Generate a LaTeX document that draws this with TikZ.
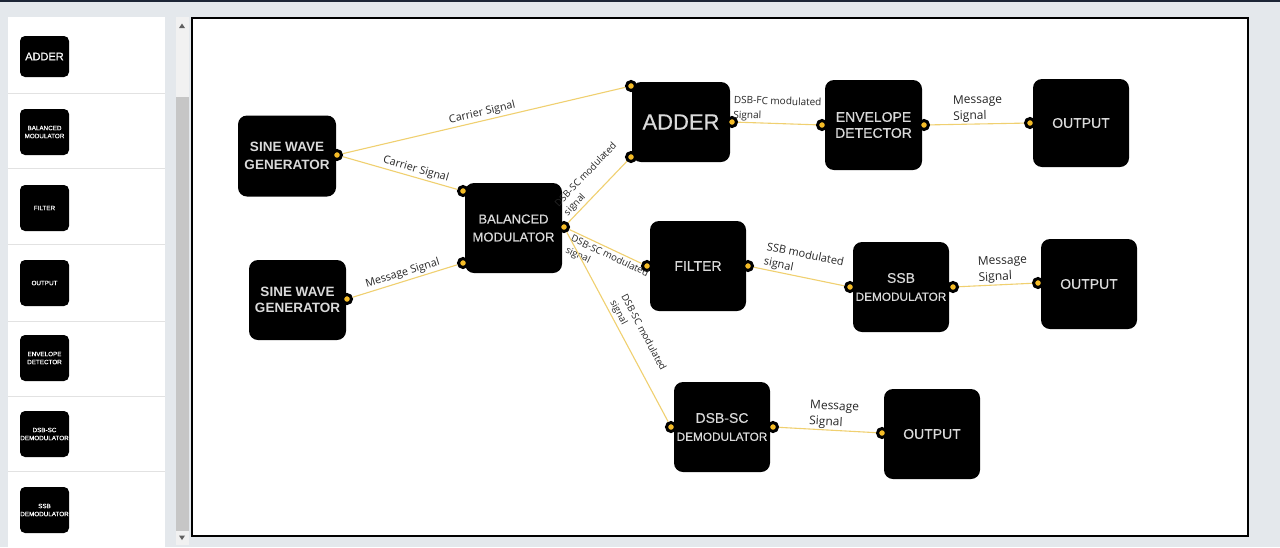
\documentclass[tikz,border=0pt]{standalone}
\usepackage{fontspec}
\setmainfont{Liberation Sans}
\newfontfamily\lblfont{Open Sans}
\newfontfamily\blkfont[FakeBold=0.4]{Liberation Sans}
\definecolor{bgc}{HTML}{E4E8EC}
\definecolor{topc}{HTML}{1C2536}
\definecolor{sepc}{HTML}{E2E2E2}
\definecolor{trackc}{HTML}{F1F1F1}
\definecolor{thumbc}{HTML}{C6C6C6}
\definecolor{arrc}{HTML}{606060}
\definecolor{blkfg}{HTML}{DADADA}
\definecolor{portc}{HTML}{F5BC27}
\definecolor{connc}{HTML}{F0D070}
\definecolor{lblc}{HTML}{262626}
\begin{document}
\begin{tikzpicture}[x=1pt,y=-1pt,
  blk/.style={fill=black, rounded corners=9pt, text=blkfg, align=center, inner sep=0pt,
    font=\blkfont\fontsize{13.5}{18}\selectfont},
  pal/.style={fill=black, rounded corners=5pt, text=white, align=center, inner sep=0pt,
    minimum width=49pt, minimum height=46pt, font=\blkfont\fontsize{6.3}{8}\selectfont},
  port/.style={circle, draw=black, line width=3pt, fill=portc, minimum size=9pt, inner sep=0pt},
  conn/.style={draw=connc, line width=1.1pt},
  lbl/.style={font=\lblfont\fontsize{10.8}{13}\selectfont, text=lblc, sloped, inner sep=2pt, align=left},
  slbl/.style={lbl, font=\lblfont\fontsize{9.6}{12.5}\selectfont},
  mlbl/.style={lbl, font=\lblfont\fontsize{12}{16}\selectfont, inner sep=1pt},
]
\useasboundingbox (0,0) rectangle (1280,547);
% background
\fill[bgc] (0,0) rectangle (1280,547);
\fill[topc] (0,0) rectangle (1280,1.5);
% palette panel
\fill[white] (8,17) rectangle (165,547);
\foreach \yy in {93,168,244,321,396,471}
  \draw[sepc, line width=0.8pt] (8,\yy) -- (165,\yy);
% scrollbar
\fill[trackc] (176,17) rectangle (189,545);
\fill[thumbc] (176,97) rectangle (189,531);
\fill[arrc] (179,28) -- (185,28) -- (182,23.5) -- cycle;
\fill[arrc] (179,535.5) -- (185,535.5) -- (182,540) -- cycle;
% palette items
\node[pal, minimum height=41pt, font=\blkfont\fontsize{11}{13}\selectfont] (pAdder) at (44.5,56.5) {ADDER};
\node[pal] (pBM) at (44.5,132) {BALANCED\\MODULATOR};
\node[pal] (pFilter) at (44.5,208) {FILTER};
\node[pal] (pOut) at (44.5,283) {OUTPUT};
\node[pal] (pEnv) at (44.5,358) {ENVELOPE\\DETECTOR};
\node[pal] (pDSB) at (44.5,434) {DSB-SC\\DEMODULATOR};
\node[pal] (pSSB) at (44.5,510) {SSB\\DEMODULATOR};
% canvas
\draw[black, line width=2pt, fill=white] (192,18) rectangle (1248,536);
% blocks
\node[blk, minimum width=98pt, minimum height=81pt, font=\bfseries\fontsize{13.5}{18}\selectfont] (sw1) at (287,156) {SINE WAVE\\GENERATOR};
\node[blk, minimum width=97pt, minimum height=80pt, font=\bfseries\fontsize{13.5}{16}\selectfont] (sw2) at (297.5,300) {SINE WAVE\\GENERATOR};
\node[blk, minimum width=97pt, minimum height=90pt, font=\blkfont\fontsize{13}{18}\selectfont] (bm) at (513.5,228) {BALANCED\\MODULATOR};
\node[blk, minimum width=98pt, minimum height=80pt, font=\blkfont\fontsize{22}{24}\selectfont] (adder) at (681,122) {ADDER};
\node[blk, minimum width=97pt, minimum height=90pt, font=\blkfont\fontsize{14}{16}\selectfont] (env) at (873.5,125) {ENVELOPE\\DETECTOR};
\node[blk, minimum width=96pt, minimum height=88pt, font=\blkfont\fontsize{14}{16}\selectfont] (out1) at (1081,123) {OUTPUT};
\node[blk, minimum width=96pt, minimum height=90pt, font=\blkfont\fontsize{14}{16}\selectfont] (filter) at (698,266) {FILTER};
\node[blk, minimum width=96pt, minimum height=90pt] (ssb) at (901,287) {\fontsize{14}{16}\selectfont SSB\\\fontsize{11.8}{16}\selectfont DEMODULATOR};
\node[blk, minimum width=96pt, minimum height=90pt, font=\blkfont\fontsize{14}{16}\selectfont] (out2) at (1089,284) {OUTPUT};
\node[blk, minimum width=96pt, minimum height=90pt] (dsb) at (722,427) {\fontsize{14}{16}\selectfont DSB-SC\\\fontsize{11.8}{16}\selectfont DEMODULATOR};
\node[blk, minimum width=96pt, minimum height=90pt, font=\blkfont\fontsize{14}{16}\selectfont] (out3) at (932,434) {OUTPUT};
% ports
\node[port] (sw1o) at (337,155) {};
\node[port] (sw2o) at (347,299) {};
\node[port] (bmi1) at (463,191) {};
\node[port] (bmi2) at (463,263) {};
\node[port] (bmo) at (564,227) {};
\node[port] (addi1) at (631,86) {};
\node[port] (addi2) at (631,157) {};
\node[port] (addo) at (732,122) {};
\node[port] (envi) at (822,125) {};
\node[port] (envo) at (924,125) {};
\node[port] (out1i) at (1030,123) {};
\node[port] (fili) at (647,266) {};
\node[port] (filo) at (748,266) {};
\node[port] (ssbi) at (850,287) {};
\node[port] (ssbo) at (953,287) {};
\node[port] (out2i) at (1038,283) {};
\node[port] (dsbi) at (671,427) {};
\node[port] (dsbo) at (773,427) {};
\node[port] (out3i) at (882,433) {};
% connectors
\draw[conn] (sw1o) -- node[lbl, above, pos=0.5] {Carrier Signal} (addi1);
\draw[conn] (sw1o) -- node[lbl, above, pos=0.62] {Carrier Signal} (bmi1);
\draw[conn] (sw2o) -- node[lbl, above, pos=0.5] {Message Signal} (bmi2);
\draw[conn] (bmo) -- node[slbl, above, pos=0.55] {DSB-SC modulated\\signal} (addi2);
\draw[conn] (bmo) -- node[slbl, below, pos=0.6] {DSB-SC modulated\\signal} (fili);
\draw[conn] (bmo) -- node[slbl, above, pos=0.58] {DSB-SC modulated\\signal} (dsbi);
\draw[conn] (addo) -- node[lbl, above, pos=0.5, font=\lblfont\fontsize{10}{15}\selectfont, inner sep=1pt] {DSB-FC modulated\\Signal} (envi);
\draw[conn] (envo) -- node[mlbl, above, pos=0.51] {Message\\Signal} (out1i);
\draw[conn] (filo) -- node[lbl, above, pos=0.52, font=\lblfont\fontsize{11}{15}\selectfont, inner sep=1pt] {SSB modulated\\signal} (ssbi);
\draw[conn] (ssbo) -- node[mlbl, above, pos=0.61] {Message\\Signal} (out2i);
\draw[conn] (dsbo) -- node[mlbl, above, pos=0.56] {Message\\Signal} (out3i);
\end{tikzpicture}
\end{document}
